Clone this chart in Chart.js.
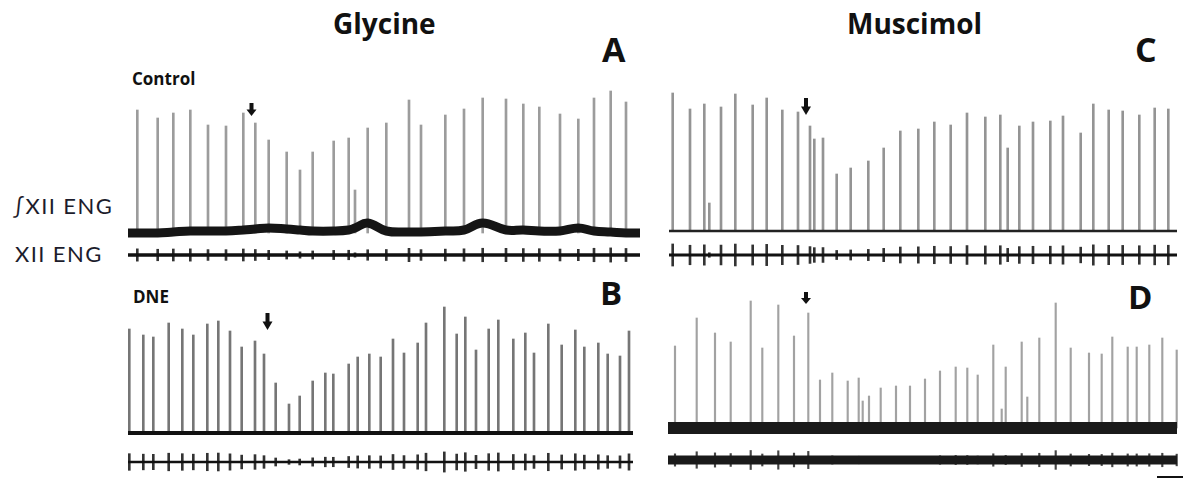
<!DOCTYPE html>
<html>
<head>
<meta charset="utf-8">
<script src="https://cdn.jsdelivr.net/npm/chart.js@4/dist/chart.umd.min.js"></script>
<style>
  body { margin: 0; width: 1191px; height: 478px; position: relative; overflow: hidden; background: #fff; font-family: "Open Sans", sans-serif; }
  canvas { position: absolute; }
  .t { position: absolute; line-height: 1; white-space: nowrap; color: #111; }
  .lbl { font-family: Lato, sans-serif; font-size: 22px; letter-spacing: 1.4px; color: #1c1c2c; }
</style>
</head>
<body>
<div class="t" style="left:333px;top:9px;font-size:28px;font-weight:700">Glycine</div>
<div class="t" style="left:847px;top:9px;font-size:28px;font-weight:700">Muscimol</div>
<div class="t" style="left:602px;top:32px;font-size:34px;font-weight:700">A</div>
<div class="t" style="left:1135px;top:32px;font-size:34px;font-weight:700">C</div>
<div class="t" style="left:600px;top:276px;font-size:33px;font-weight:700">B</div>
<div class="t" style="left:1128px;top:280px;font-size:33px;font-weight:700">D</div>
<div class="t" style="left:132px;top:70px;font-size:17px;font-weight:700">Control</div>
<div class="t" style="left:133px;top:288px;font-size:17px;font-weight:700">DNE</div>
<div class="t lbl" style="left:13px;top:195px">∫XII ENG</div>
<div class="t lbl" style="left:15px;top:243px">XII ENG</div>
<div style="position:absolute;left:1157px;top:476px;width:26px;height:2px;background:#111"></div>

<canvas id="intA" width="512" height="155" style="left:128px;top:85px"></canvas>
<canvas id="rawA" width="512" height="32" style="left:128px;top:239px"></canvas>
<canvas id="intB" width="512" height="145" style="left:128px;top:295px"></canvas>
<canvas id="rawB" width="512" height="32" style="left:128px;top:446px"></canvas>
<canvas id="intC" width="512" height="155" style="left:668px;top:85px"></canvas>
<canvas id="rawC" width="512" height="32" style="left:668px;top:239px"></canvas>
<canvas id="intD" width="512" height="155" style="left:668px;top:285px"></canvas>
<canvas id="rawD" width="512" height="32" style="left:668px;top:444px"></canvas>

<script>
// burst onset times (s) and integrated XII amplitudes (a.u.)
const glyControlT = [0.93, 2.97, 4.53, 6.23, 8.0, 9.8, 11.53, 12.73, 14.07, 15.87, 17.2, 18.47, 20.57, 22.07, 22.7,
  23.97, 25.83, 28.1, 29.3, 31.73, 33.6, 35.47, 37.8, 39.53, 41.13, 43.2, 45.03, 46.6, 48.27, 49.8];
const glyControlAmp = [123, 115, 120, 123, 108, 107, 120, 110, 93, 81, 63, 81, 92, 95, 43,
  105, 110, 133, 108, 118, 124, 135, 134, 129, 126, 119, 114, 135, 142, 131];
// slow tonic level of the integrated control trace at each burst
const glyControlTonic = [0, 0, 1, 2, 2, 2, 3, 4, 5, 4, 3, 2, 2, 3, 5,
  10, 2, 1, 1, 2, 3, 10, 3, 3, 2, 2, 5, 2, 1, 0];

const glyDneT = [0.13, 1.53, 2.53, 4.07, 5.43, 6.53, 7.93, 9.03, 10.2, 11.37, 12.7, 13.6, 14.77, 16.1, 17.17,
  18.47, 19.73, 20.53, 22.07, 22.97, 24.13, 25.27, 26.5, 27.6, 28.97, 29.8, 31.63, 32.87, 33.73, 34.8,
  36.07, 37.03, 38.53, 39.73, 40.6, 42.03, 43.37, 44.73, 45.63, 47.03, 47.97, 49.2, 50.1];
const glyDneAmp = [104, 98, 96, 110, 104, 98, 109, 112, 102, 86, 92, 79, 50, 29, 37,
  52, 60, 59, 69, 76, 79, 76, 94, 80, 90, 110, 126, 99, 116, 83,
  104, 113, 94, 100, 80, 109, 88, 103, 86, 90, 79, 77, 102];

const musControlT = [0.47, 2.2, 3.63, 4.13, 5.3, 6.73, 8.47, 9.87, 11.43, 13.0, 14.2, 14.63, 15.5, 16.87, 18.27,
  20.03, 21.57, 23.23, 25.03, 26.63, 28.27, 29.9, 31.73, 33.23, 33.97, 35.13, 36.5, 38.23, 39.5, 41.27,
  42.53, 44.07, 45.47, 47.13, 48.67, 50.03];
const musControlAmp = [138, 122, 127, 28, 124, 137, 126, 133, 121, 119, 105, 92, 93, 57, 63,
  70, 83, 100, 102, 109, 106, 118, 114, 116, 83, 105, 109, 110, 115, 98,
  127, 121, 120, 116, 123, 122];

const musDneT = [0.7, 2.87, 4.7, 6.27, 8.27, 9.43, 11.03, 12.6, 14.03, 15.2, 16.43, 17.97, 19.07, 19.47, 20.1,
  21.27, 22.8, 24.2, 25.7, 27.2, 28.77, 29.93, 30.97, 32.53, 33.37, 33.77, 35.37, 35.93, 37.13, 38.77,
  40.27, 42.1, 43.37, 44.43, 45.97, 46.87, 48.13, 49.43, 50.87];
const musDneAmp = [82, 110, 95, 86, 127, 80, 123, 92, 115, 48, 55, 47, 50, 27, 32,
  40, 42, 42, 49, 57, 61, 60, 53, 83, 19, 61, 86, 31, 90, 125,
  80, 75, 74, 91, 81, 81, 83, 90, 78];

// drug application (arrow) times, s
const drugOnset = { A: 12.35, B: 13.95, C: 13.8, D: 13.8 };
// recording start / end, s
const recStart = { A: 0, B: 0, C: 0.1, D: 0 };
const recEnd = { A: 51.2, B: 50.5, C: 50.9, D: 50.9 };
const X_MAX = 51.2;

const arrowPlugin = {
  id: 'drugArrow',
  afterDatasetsDraw(chart, args, o) {
    if (o.t == null) return;
    const ctx = chart.ctx;
    const x = chart.scales.x.getPixelForValue(o.t);
    const mid = o.top + o.len * 0.5;
    ctx.save();
    ctx.fillStyle = '#111';
    ctx.fillRect(x - 2, o.top, 4, o.len * 0.5 + 1);
    ctx.beginPath();
    ctx.moveTo(x - 5, mid);
    ctx.lineTo(x + 5, mid);
    ctx.lineTo(x, o.top + o.len);
    ctx.closePath();
    ctx.fill();
    ctx.restore();
  }
};

function makeTrace(id, o) {
  const canvas = document.getElementById(id);
  const spikes = o.raw
    ? o.times.map((t, i) => ({ x: t, y: [-o.amps[i] * o.gain, o.amps[i] * o.gain] }))
    : o.times.map((t, i) => ({ x: t, y: o.amps[i] }));
  let base = [{ x: o.start, y: 0 }, { x: o.end, y: 0 }];
  if (o.tonic) {
    base = [{ x: o.start, y: 0 }, ...o.times.map((t, i) => ({ x: t, y: o.tonic[i] })), { x: o.end, y: 0 }];
  }
  return new Chart(canvas.getContext('2d'), {
    type: 'bar',
    data: {
      datasets: [
        {
          type: 'line',
          data: base,
          borderColor: o.baseColor || '#111',
          borderWidth: o.baseWidth,
          pointRadius: 0,
          tension: 0.4,
          order: 0,
        },
        {
          data: spikes,
          backgroundColor: o.color,
          borderWidth: 0,
          barThickness: o.thick,
          grouped: false,
          order: 1,
        },
      ],
    },
    options: {
      responsive: false,
      animation: false,
      devicePixelRatio: 1,
      layout: { padding: 0 },
      scales: {
        x: { type: 'linear', min: 0, max: X_MAX, offset: false, display: false },
        y: { min: o.yMin, max: o.yMax, display: false },
      },
      plugins: {
        legend: { display: false },
        tooltip: { enabled: false },
        drugArrow: o.arrow || {},
      },
    },
    plugins: [arrowPlugin],
  });
}

// Glycine, control
makeTrace('intA', { times: glyControlT, amps: glyControlAmp, tonic: glyControlTonic, start: recStart.A, end: recEnd.A,
  yMin: -7, yMax: 148, baseWidth: 9, baseColor: '#151515', color: 'rgba(90,90,90,0.6)', thick: 2,
  arrow: { t: drugOnset.A, top: 18, len: 13 } });
makeTrace('rawA', { raw: true, gain: 0.05, times: glyControlT, amps: glyControlAmp, start: recStart.A, end: recEnd.A,
  yMin: -16, yMax: 16, baseWidth: 3.5, color: '#333', thick: 2 });

// Glycine, DNE
makeTrace('intB', { times: glyDneT, amps: glyDneAmp, start: recStart.B, end: recEnd.B,
  yMin: -7, yMax: 138, baseWidth: 4, color: 'rgba(60,60,60,0.7)', thick: 2,
  arrow: { t: drugOnset.B, top: 18, len: 17 } });
makeTrace('rawB', { raw: true, gain: 0.08, times: glyDneT, amps: glyDneAmp, start: recStart.B, end: recEnd.B,
  yMin: -16, yMax: 16, baseWidth: 2.5, color: '#333', thick: 2 });

// Muscimol, control
makeTrace('intC', { times: musControlT, amps: musControlAmp, start: recStart.C, end: recEnd.C,
  yMin: -9, yMax: 146, baseWidth: 2.5, baseColor: '#222', color: 'rgba(90,90,90,0.65)', thick: 2,
  arrow: { t: drugOnset.C, top: 13, len: 17 } });
makeTrace('rawC', { raw: true, gain: 0.08, times: musControlT, amps: musControlAmp, start: recStart.C, end: recEnd.C,
  yMin: -16, yMax: 16, baseWidth: 3, color: '#333', thick: 2 });

// Muscimol, DNE
makeTrace('intD', { times: musDneT, amps: musDneAmp, start: recStart.D, end: recEnd.D,
  yMin: -12, yMax: 143, baseWidth: 12, baseColor: '#1a1a1a', color: 'rgba(100,100,100,0.6)', thick: 1.5,
  arrow: { t: drugOnset.D, top: 7, len: 12 } });
makeTrace('rawD', { raw: true, gain: 0.075, times: musDneT, amps: musDneAmp, start: recStart.D, end: recEnd.D,
  yMin: -16, yMax: 16, baseWidth: 9, baseColor: '#1a1a1a', color: '#444', thick: 1.5 });
</script>
</body>
</html>
